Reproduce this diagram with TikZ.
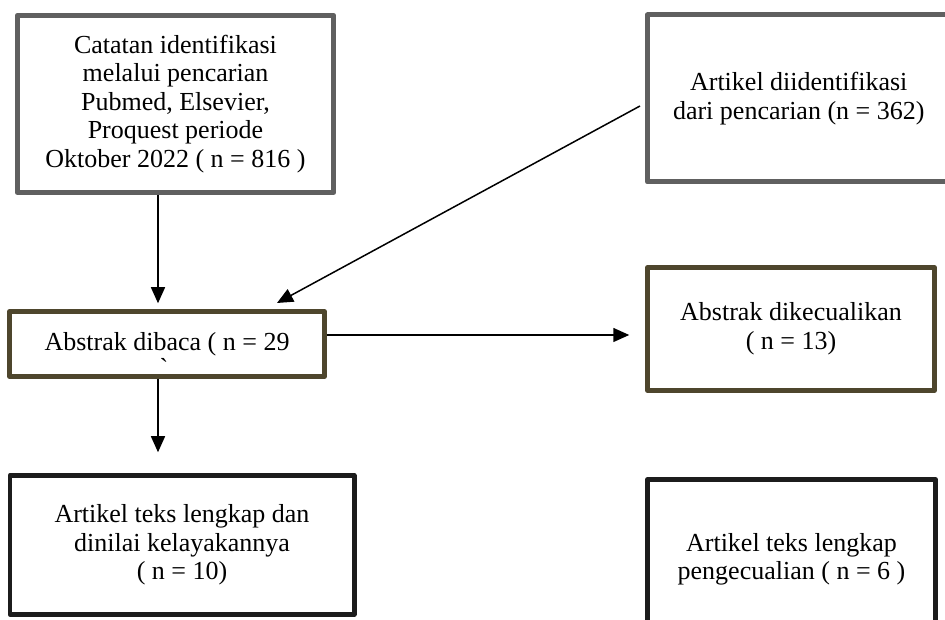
\documentclass[tikz,border=0pt]{standalone}
\usepackage{fontspec}
\setmainfont{Liberation Serif}
\usepackage{tikz}
\usetikzlibrary{arrows.meta,positioning,calc}
\definecolor{kotakAbu}    {RGB}{96,  96,  96}
\definecolor{kotakZaitun} {RGB}{78,  70,  45}
\definecolor{kotakHitam}  {RGB}{28,  28,  28}

\begin{document}
\begin{tikzpicture}[x=1pt,y=1pt,
    kotak/.style={draw,rectangle,align=center,inner sep=0pt,line join=round,
                  font=\fontsize{26}{28.5}\selectfont},
    abu/.style={kotak,draw=kotakAbu,line width=5pt},
    zaitun/.style={kotak,draw=kotakZaitun,line width=4.5pt},
    hitam/.style={kotak,draw=kotakHitam,line width=4.5pt},
    panah/.style={-{Triangle[length=16pt,width=14pt]},line width=1.5pt}]

    \useasboundingbox (0,0) rectangle (945,620);
    \clip (0,0) rectangle (945,620);

    % ─── Baris 1: identifikasi ────────────────────────────
    \node[abu,minimum width=316.5pt,minimum height=177pt] (catatan) at (175.5,516)
      {Catatan identifikasi\\melalui pencarian\\Pubmed, Elsevier,\\Proquest periode\\Oktober 2022 ( n = 816 )};
    \node[abu,minimum width=302.5pt,minimum height=167pt] (artikel) at (798.75,521.5)
      {Artikel diidentifikasi\\dari pencarian (n = 362)};

    % ─── Baris 2: penyaringan abstrak ─────────────────────
    \node[zaitun,minimum width=315pt,minimum height=65pt] (abstrak) at (167,276)
      {Abstrak dibaca ( n = 29};
    \node[font=\fontsize{26}{28.5}\selectfont,inner sep=0pt,anchor=base] (aksen) at (164,243)
      {\textasciigrave};
    \node[zaitun,minimum width=287pt,minimum height=123pt] (kecuali) at (791,291)
      {Abstrak dikecualikan\\( n = 13)};

    % ─── Baris 3: teks lengkap ────────────────────────────
    \node[hitam,minimum width=344.5pt,minimum height=139pt] (lengkap) at (182,75)
      {Artikel teks lengkap dan\\dinilai kelayakannya\\( n = 10)};
    \node[hitam,minimum width=288pt,minimum height=160pt] (eksklusi) at (791.5,60.5)
      {Artikel teks lengkap\\pengecualian ( n = 6 )};

    % Panah antar kotak
    \draw[panah,shorten >=6pt] ([xshift=-17.5pt]catatan.south)
      -- ([xshift=-17.5pt]catatan.south |- abstrak.north);
    \draw[panah] ([xshift=-5pt,yshift=-7.5pt]artikel.west)
      -- ([xshift=110pt,yshift=6.25pt]abstrak.north);
    \draw[panah,shorten >=16pt] ([yshift=9pt]abstrak.east)
      -- ([yshift=9pt]abstrak.east -| kecuali.west);
    \draw[panah,shorten >=21pt] ([xshift=-9pt]abstrak.south)
      -- ([xshift=-9pt]abstrak.south |- lengkap.north);

\end{tikzpicture}
\end{document}
